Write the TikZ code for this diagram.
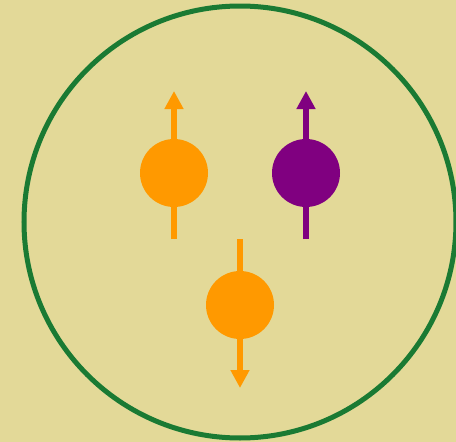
\documentclass[tikz,border=0pt]{standalone}
\usepackage{xcolor}
\usetikzlibrary{arrows.meta}
\definecolor{bgkhaki}{RGB}{227,217,152}
\definecolor{ringgreen}{RGB}{26,122,51}
\definecolor{spinorange}{RGB}{255,153,0}
\definecolor{spinpurple}{RGB}{128,0,128}
\tikzset{
  spinarrow/.style={-{Triangle[length=18pt, width=18pt]}, line width=6pt},
  spinball/.style={circle, minimum size=68pt, inner sep=0pt},
  ring/.style={draw=ringgreen, line width=5pt}
}

\begin{document}
\begin{tikzpicture}[x=1pt, y=-1pt]
  \fill[bgkhaki] (0,0) rectangle (456,442);
  \useasboundingbox (0,0) rectangle (456,442);

  \node[ring, circle, minimum size=432pt, inner sep=0pt] (shell) at (240,222) {};

  % spin arrows
  \coordinate (uptail) at (174,239);
  \coordinate (uptip) at (174,91);
  \coordinate (purpletail) at (306,239);
  \coordinate (purpletip) at (306,91);
  \coordinate (downtail) at (240,239);
  \coordinate (downtip) at (240,388);
  \draw[spinarrow, draw=spinorange, fill=spinorange] (uptail) -- (uptip);
  \draw[spinarrow, draw=spinpurple, fill=spinpurple] (purpletail) -- (purpletip);
  \draw[spinarrow, draw=spinorange, fill=spinorange] (downtail) -- (downtip);

  % electrons
  \node[spinball, fill=spinorange] (upball) at (174,173) {};
  \node[spinball, fill=spinpurple] (purpleball) at (306,173) {};
  \node[spinball, fill=spinorange] (downball) at (240,305) {};
\end{tikzpicture}
\end{document}
